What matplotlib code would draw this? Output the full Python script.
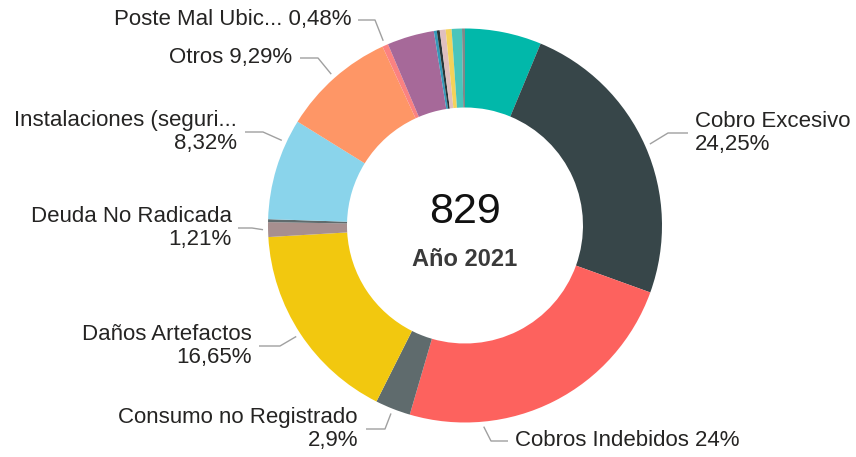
import matplotlib
matplotlib.use("Agg")
from matplotlib import pyplot as plt
import numpy as np

# data (counts per category, total 829)
categories = ['Alumbrado', 'Cobro Excesivo', 'Cobros Indebidos', 'Consumo no Registrado',
              'Daños Artefactos', 'Deuda No Radicada', 'Error Lectura',
              'Instalaciones (seguri...', 'Otros', 'Poste Mal Ubic...', 'Reclamos',
              'Servicio', 'Suspensión', 'Tarifa', 'Trámites', 'Varios', 'Zonas']
counts = [52, 201, 199, 24, 138, 10, 2, 69, 77, 4, 32, 2, 2, 4, 4, 7, 2]
colors = ['#01B8AA', '#374649', '#FD625E', '#5F6B6D', '#F2C80F', '#A78F8F', '#5F6B6D',
          '#8AD4EB', '#FE9666', '#FB8281', '#A66999', '#3599B8', '#293537', '#DFBFBF',
          '#F4D25A', '#4AC5BB', '#7F898A']
total_label = '829'
subtitle = 'Año 2021'

# label layout: anchor fraction in wedge, side, text x, text mid y, elbow x, end x, two lines?
label_layout = {
    'Cobro Excesivo':          (0.50, 'right', 695, 133, 668, 688, True),
    'Cobros Indebidos':        (0.75, 'right', 515, 441, 491, 508, False),
    'Consumo no Registrado':   (0.50, 'left', 358, 429, 385, 366, True),
    'Daños Artefactos':        (0.50, 'left', 252, 346, 280, 259, True),
    'Deuda No Radicada':       (0.50, 'left', 232, 228, 252, 238, True),
    'Instalaciones (seguri...': (0.77, 'left', 237, 132, 263, 245, True),
    'Otros':                   (0.50, 'left', 292, 58, 318, 300, False),
    'Poste Mal Ubic...':       (0.50, 'left', 352, 20, 375, 358, False),
}

W, H = 856, 457
cx, cy, R, ring = 465, 225.5, 197, 79

fig = plt.figure(figsize=(W / 100, H / 100), dpi=100)
ax = fig.add_axes([0, 0, 1, 1])
wedges, _ = ax.pie(counts, colors=colors, startangle=-90, counterclock=True,
                   radius=R, center=(cx, cy),
                   wedgeprops=dict(width=ring, linewidth=0))
ax.set_xlim(0, W)
ax.set_ylim(H, 0)
ax.set_aspect('equal')
ax.axis('off')

total = sum(counts)


def fmt_pct(v):
    s = f"{v / total * 100:.2f}".rstrip('0').rstrip('.')
    return s.replace('.', ',') + '%'


for name, cnt, w in zip(categories, counts, wedges):
    if name not in label_layout:
        continue
    f, side, tx, ty, ex, endx, two = label_layout[name]
    th = np.radians(w.theta1 + f * (w.theta2 - w.theta1))
    ax_ = cx + (R + 5) * np.cos(th)
    ay_ = cy + (R + 5) * np.sin(th)
    ax.plot([ax_, ex, endx], [ay_, ty, ty], color='#A0A0A0', lw=1.0,
            solid_capstyle='butt')
    txt = name + ('\n' if two else ' ') + fmt_pct(cnt)
    ax.text(tx, ty, txt, ha='left' if side == 'right' else 'right', va='center',
            multialignment='left' if side == 'right' else 'right',
            fontsize=16, family='Liberation Sans',
            color='#252423', linespacing=1.15)

ax.text(cx, 212, total_label, ha='center', va='center', fontsize=31,
        family='Liberation Sans', color='#111111')
ax.text(cx, 260, subtitle, ha='center', va='center', fontsize=17,
        family='Liberation Sans', fontweight='bold', color='#3A3A3A')

fig.savefig('out.png', dpi=100)
